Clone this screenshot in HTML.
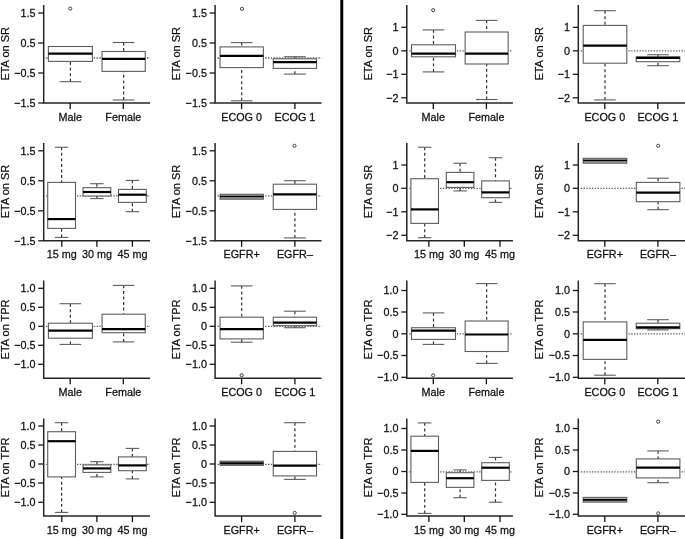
<!DOCTYPE html>
<html><head><meta charset="utf-8"><style>
html,body{margin:0;padding:0;background:#fff;}
svg{display:block;will-change:transform;}
text{font-family:"Liberation Sans",sans-serif;font-size:10.8px;fill:#111;stroke:#111;stroke-width:0.25px;}
</style></head><body>
<svg width="685" height="539" viewBox="0 0 685 539">
<rect width="685" height="539" fill="#fff"/>
<rect x="340.3" y="0" width="2.95" height="539" fill="#000"/>
<line x1="46.2" y1="58" x2="150.1" y2="58" stroke="#555" stroke-width="1.3" stroke-dasharray="1.3,1.5"/>
<line x1="70.4" y1="81.7" x2="70.4" y2="61.4" stroke="#333" stroke-width="1.2" stroke-dasharray="2.95,2.6"/>
<line x1="59.6" y1="81.7" x2="81.2" y2="81.7" stroke="#5e5e5e" stroke-width="1.1"/>
<rect x="48.4" y="46.5" width="44" height="14.9" fill="#fff" stroke="#5e5e5e" stroke-width="1.1"/>
<line x1="48.4" y1="53.6" x2="92.4" y2="53.6" stroke="#000" stroke-width="2.2"/>
<circle cx="70.2" cy="8.6" r="1.6" fill="none" stroke="#333" stroke-width="0.9"/>
<line x1="123.65" y1="42.5" x2="123.65" y2="51.5" stroke="#333" stroke-width="1.2" stroke-dasharray="2.95,2.6"/>
<line x1="112.85" y1="42.5" x2="134.45" y2="42.5" stroke="#5e5e5e" stroke-width="1.1"/>
<line x1="123.65" y1="100" x2="123.65" y2="71.4" stroke="#333" stroke-width="1.2" stroke-dasharray="2.95,2.6"/>
<line x1="112.85" y1="100" x2="134.45" y2="100" stroke="#5e5e5e" stroke-width="1.1"/>
<rect x="102.05" y="51.5" width="43.2" height="19.9" fill="#fff" stroke="#5e5e5e" stroke-width="1.1"/>
<line x1="102.05" y1="58.9" x2="145.25" y2="58.9" stroke="#000" stroke-width="2.2"/>
<path d="M43.7 5V103.1H150.1" fill="none" stroke="#262626" stroke-width="1.5"/>
<line x1="38.2" y1="13" x2="43.7" y2="13" stroke="#1a1a1a" stroke-width="1.3"/>
<text transform="translate(35.5,16.7) scale(1,1.05)" text-anchor="end">1.5</text>
<line x1="38.2" y1="43" x2="43.7" y2="43" stroke="#1a1a1a" stroke-width="1.3"/>
<text transform="translate(35.5,46.7) scale(1,1.05)" text-anchor="end">0.5</text>
<line x1="38.2" y1="73" x2="43.7" y2="73" stroke="#1a1a1a" stroke-width="1.3"/>
<text transform="translate(35.5,76.7) scale(1,1.05)" text-anchor="end">−0.5</text>
<line x1="38.2" y1="103" x2="43.7" y2="103" stroke="#1a1a1a" stroke-width="1.3"/>
<text transform="translate(35.5,106.7) scale(1,1.05)" text-anchor="end">−1.5</text>
<line x1="70.2" y1="103.1" x2="70.2" y2="109.1" stroke="#111" stroke-width="1.3"/>
<text transform="translate(70.2,120.7) scale(1,1.05)" text-anchor="middle">Male</text>
<line x1="123.3" y1="103.1" x2="123.3" y2="109.1" stroke="#111" stroke-width="1.3"/>
<text transform="translate(123.3,120.7) scale(1,1.05)" text-anchor="middle">Female</text>
<text transform="translate(8.5,53.85) rotate(-90) scale(1.017,0.93)" text-anchor="middle">ETA on SR</text>
<line x1="217.6" y1="58" x2="321.5" y2="58" stroke="#555" stroke-width="1.3" stroke-dasharray="1.3,1.5"/>
<line x1="241.7" y1="42.6" x2="241.7" y2="46.9" stroke="#333" stroke-width="1.2" stroke-dasharray="2.95,2.6"/>
<line x1="230.9" y1="42.6" x2="252.5" y2="42.6" stroke="#5e5e5e" stroke-width="1.1"/>
<line x1="241.7" y1="100.8" x2="241.7" y2="67.6" stroke="#333" stroke-width="1.2" stroke-dasharray="2.95,2.6"/>
<line x1="230.9" y1="100.8" x2="252.5" y2="100.8" stroke="#5e5e5e" stroke-width="1.1"/>
<rect x="220.05" y="46.9" width="43.3" height="20.7" fill="#fff" stroke="#5e5e5e" stroke-width="1.1"/>
<line x1="220.05" y1="55.9" x2="263.35" y2="55.9" stroke="#000" stroke-width="2.2"/>
<circle cx="242" cy="8.8" r="1.6" fill="none" stroke="#333" stroke-width="0.9"/>
<line x1="294.9" y1="56.7" x2="294.9" y2="58.8" stroke="#333" stroke-width="1.2" stroke-dasharray="2.95,2.6"/>
<line x1="284.1" y1="56.7" x2="305.7" y2="56.7" stroke="#5e5e5e" stroke-width="1.1"/>
<line x1="294.9" y1="74.1" x2="294.9" y2="68.4" stroke="#333" stroke-width="1.2" stroke-dasharray="2.95,2.6"/>
<line x1="284.1" y1="74.1" x2="305.7" y2="74.1" stroke="#5e5e5e" stroke-width="1.1"/>
<rect x="273.25" y="58.8" width="43.3" height="9.6" fill="#fff" stroke="#5e5e5e" stroke-width="1.1"/>
<line x1="273.25" y1="62.1" x2="316.55" y2="62.1" stroke="#000" stroke-width="2.2"/>
<path d="M215.1 5V103.1H321.5" fill="none" stroke="#262626" stroke-width="1.5"/>
<line x1="209.6" y1="13" x2="215.1" y2="13" stroke="#1a1a1a" stroke-width="1.3"/>
<text transform="translate(206.9,16.7) scale(1,1.05)" text-anchor="end">1.5</text>
<line x1="209.6" y1="43" x2="215.1" y2="43" stroke="#1a1a1a" stroke-width="1.3"/>
<text transform="translate(206.9,46.7) scale(1,1.05)" text-anchor="end">0.5</text>
<line x1="209.6" y1="73" x2="215.1" y2="73" stroke="#1a1a1a" stroke-width="1.3"/>
<text transform="translate(206.9,76.7) scale(1,1.05)" text-anchor="end">−0.5</text>
<line x1="209.6" y1="103" x2="215.1" y2="103" stroke="#1a1a1a" stroke-width="1.3"/>
<text transform="translate(206.9,106.7) scale(1,1.05)" text-anchor="end">−1.5</text>
<line x1="241.6" y1="103.1" x2="241.6" y2="109.1" stroke="#111" stroke-width="1.3"/>
<text transform="translate(241.6,120.7) scale(1,1.05)" text-anchor="middle">ECOG 0</text>
<line x1="294.9" y1="103.1" x2="294.9" y2="109.1" stroke="#111" stroke-width="1.3"/>
<text transform="translate(294.9,120.7) scale(1,1.05)" text-anchor="middle">ECOG 1</text>
<text transform="translate(180.2,53.85) rotate(-90) scale(1.017,0.93)" text-anchor="middle">ETA on SR</text>
<line x1="409.3" y1="50.8" x2="512.9" y2="50.8" stroke="#555" stroke-width="1.3" stroke-dasharray="1.3,1.5"/>
<line x1="433.5" y1="29.9" x2="433.5" y2="44.8" stroke="#333" stroke-width="1.2" stroke-dasharray="2.95,2.6"/>
<line x1="422.7" y1="29.9" x2="444.3" y2="29.9" stroke="#5e5e5e" stroke-width="1.1"/>
<line x1="433.5" y1="71.9" x2="433.5" y2="56.8" stroke="#333" stroke-width="1.2" stroke-dasharray="2.95,2.6"/>
<line x1="422.7" y1="71.9" x2="444.3" y2="71.9" stroke="#5e5e5e" stroke-width="1.1"/>
<rect x="411.5" y="44.8" width="44" height="12" fill="#fff" stroke="#5e5e5e" stroke-width="1.1"/>
<line x1="411.5" y1="53.6" x2="455.5" y2="53.6" stroke="#000" stroke-width="2.2"/>
<circle cx="433.2" cy="10.2" r="1.6" fill="none" stroke="#333" stroke-width="0.9"/>
<line x1="486.65" y1="20.4" x2="486.65" y2="32" stroke="#333" stroke-width="1.2" stroke-dasharray="2.95,2.6"/>
<line x1="475.85" y1="20.4" x2="497.45" y2="20.4" stroke="#5e5e5e" stroke-width="1.1"/>
<line x1="486.65" y1="99.5" x2="486.65" y2="64" stroke="#333" stroke-width="1.2" stroke-dasharray="2.95,2.6"/>
<line x1="475.85" y1="99.5" x2="497.45" y2="99.5" stroke="#5e5e5e" stroke-width="1.1"/>
<rect x="465.15" y="32" width="43" height="32" fill="#fff" stroke="#5e5e5e" stroke-width="1.1"/>
<line x1="465.15" y1="53.6" x2="508.15" y2="53.6" stroke="#000" stroke-width="2.2"/>
<path d="M406.8 5V103.1H512.9" fill="none" stroke="#262626" stroke-width="1.5"/>
<line x1="401.3" y1="27.3" x2="406.8" y2="27.3" stroke="#1a1a1a" stroke-width="1.3"/>
<text transform="translate(398.6,31) scale(1,1.05)" text-anchor="end">1</text>
<line x1="401.3" y1="50.8" x2="406.8" y2="50.8" stroke="#1a1a1a" stroke-width="1.3"/>
<text transform="translate(398.6,54.5) scale(1,1.05)" text-anchor="end">0</text>
<line x1="401.3" y1="74.3" x2="406.8" y2="74.3" stroke="#1a1a1a" stroke-width="1.3"/>
<text transform="translate(398.6,78) scale(1,1.05)" text-anchor="end">−1</text>
<line x1="401.3" y1="97.8" x2="406.8" y2="97.8" stroke="#1a1a1a" stroke-width="1.3"/>
<text transform="translate(398.6,101.5) scale(1,1.05)" text-anchor="end">−2</text>
<line x1="433.3" y1="103.1" x2="433.3" y2="109.1" stroke="#111" stroke-width="1.3"/>
<text transform="translate(433.3,120.7) scale(1,1.05)" text-anchor="middle">Male</text>
<line x1="486.4" y1="103.1" x2="486.4" y2="109.1" stroke="#111" stroke-width="1.3"/>
<text transform="translate(486.4,120.7) scale(1,1.05)" text-anchor="middle">Female</text>
<text transform="translate(372,53.85) rotate(-90) scale(1.017,0.93)" text-anchor="middle">ETA on SR</text>
<line x1="580.8" y1="50.8" x2="686" y2="50.8" stroke="#555" stroke-width="1.3" stroke-dasharray="1.3,1.5"/>
<line x1="605" y1="10.7" x2="605" y2="25.4" stroke="#333" stroke-width="1.2" stroke-dasharray="2.95,2.6"/>
<line x1="594.2" y1="10.7" x2="615.8" y2="10.7" stroke="#5e5e5e" stroke-width="1.1"/>
<line x1="605" y1="99.9" x2="605" y2="63.2" stroke="#333" stroke-width="1.2" stroke-dasharray="2.95,2.6"/>
<line x1="594.2" y1="99.9" x2="615.8" y2="99.9" stroke="#5e5e5e" stroke-width="1.1"/>
<rect x="583.2" y="25.4" width="43.6" height="37.8" fill="#fff" stroke="#5e5e5e" stroke-width="1.1"/>
<line x1="583.2" y1="45.6" x2="626.8" y2="45.6" stroke="#000" stroke-width="2.2"/>
<line x1="658" y1="54.7" x2="658" y2="56.9" stroke="#333" stroke-width="1.2" stroke-dasharray="2.95,2.6"/>
<line x1="647.2" y1="54.7" x2="668.8" y2="54.7" stroke="#5e5e5e" stroke-width="1.1"/>
<line x1="658" y1="65.7" x2="658" y2="61.7" stroke="#333" stroke-width="1.2" stroke-dasharray="2.95,2.6"/>
<line x1="647.2" y1="65.7" x2="668.8" y2="65.7" stroke="#5e5e5e" stroke-width="1.1"/>
<rect x="636.2" y="56.9" width="43.6" height="4.8" fill="#fff" stroke="#5e5e5e" stroke-width="1.1"/>
<line x1="636.2" y1="57.9" x2="679.8" y2="57.9" stroke="#000" stroke-width="2.2"/>
<path d="M578.3 5V103.1H686" fill="none" stroke="#262626" stroke-width="1.5"/>
<line x1="572.8" y1="27.3" x2="578.3" y2="27.3" stroke="#1a1a1a" stroke-width="1.3"/>
<text transform="translate(570.1,31) scale(1,1.05)" text-anchor="end">1</text>
<line x1="572.8" y1="50.8" x2="578.3" y2="50.8" stroke="#1a1a1a" stroke-width="1.3"/>
<text transform="translate(570.1,54.5) scale(1,1.05)" text-anchor="end">0</text>
<line x1="572.8" y1="74.3" x2="578.3" y2="74.3" stroke="#1a1a1a" stroke-width="1.3"/>
<text transform="translate(570.1,78) scale(1,1.05)" text-anchor="end">−1</text>
<line x1="572.8" y1="97.8" x2="578.3" y2="97.8" stroke="#1a1a1a" stroke-width="1.3"/>
<text transform="translate(570.1,101.5) scale(1,1.05)" text-anchor="end">−2</text>
<line x1="604.8" y1="103.1" x2="604.8" y2="109.1" stroke="#111" stroke-width="1.3"/>
<text transform="translate(604.8,120.7) scale(1,1.05)" text-anchor="middle">ECOG 0</text>
<line x1="657.8" y1="103.1" x2="657.8" y2="109.1" stroke="#111" stroke-width="1.3"/>
<text transform="translate(657.8,120.7) scale(1,1.05)" text-anchor="middle">ECOG 1</text>
<text transform="translate(543.4,53.85) rotate(-90) scale(1.017,0.93)" text-anchor="middle">ETA on SR</text>
<line x1="46.2" y1="195.8" x2="150.1" y2="195.8" stroke="#555" stroke-width="1.3" stroke-dasharray="1.3,1.5"/>
<line x1="61.6" y1="147.3" x2="61.6" y2="182.4" stroke="#333" stroke-width="1.2" stroke-dasharray="2.95,2.6"/>
<line x1="54.9" y1="147.3" x2="68.3" y2="147.3" stroke="#5e5e5e" stroke-width="1.1"/>
<line x1="61.6" y1="237.4" x2="61.6" y2="228.4" stroke="#333" stroke-width="1.2" stroke-dasharray="2.95,2.6"/>
<line x1="54.9" y1="237.4" x2="68.3" y2="237.4" stroke="#5e5e5e" stroke-width="1.1"/>
<rect x="47.7" y="182.4" width="27.8" height="46" fill="#fff" stroke="#5e5e5e" stroke-width="1.1"/>
<line x1="47.7" y1="219.1" x2="75.5" y2="219.1" stroke="#000" stroke-width="2.2"/>
<line x1="96.9" y1="183.7" x2="96.9" y2="187.7" stroke="#333" stroke-width="1.2" stroke-dasharray="2.95,2.6"/>
<line x1="90.2" y1="183.7" x2="103.6" y2="183.7" stroke="#5e5e5e" stroke-width="1.1"/>
<line x1="96.9" y1="198.6" x2="96.9" y2="196" stroke="#333" stroke-width="1.2" stroke-dasharray="2.95,2.6"/>
<line x1="90.2" y1="198.6" x2="103.6" y2="198.6" stroke="#5e5e5e" stroke-width="1.1"/>
<rect x="83" y="187.7" width="27.8" height="8.3" fill="#fff" stroke="#5e5e5e" stroke-width="1.1"/>
<line x1="83" y1="192" x2="110.8" y2="192" stroke="#000" stroke-width="2.2"/>
<line x1="132.4" y1="180.4" x2="132.4" y2="189.4" stroke="#333" stroke-width="1.2" stroke-dasharray="2.95,2.6"/>
<line x1="125.7" y1="180.4" x2="139.1" y2="180.4" stroke="#5e5e5e" stroke-width="1.1"/>
<line x1="132.4" y1="211.7" x2="132.4" y2="202.4" stroke="#333" stroke-width="1.2" stroke-dasharray="2.95,2.6"/>
<line x1="125.7" y1="211.7" x2="139.1" y2="211.7" stroke="#5e5e5e" stroke-width="1.1"/>
<rect x="118.5" y="189.4" width="27.8" height="13" fill="#fff" stroke="#5e5e5e" stroke-width="1.1"/>
<line x1="118.5" y1="194.7" x2="146.3" y2="194.7" stroke="#000" stroke-width="2.2"/>
<path d="M43.7 143V240.8H150.1" fill="none" stroke="#262626" stroke-width="1.5"/>
<line x1="38.2" y1="150.8" x2="43.7" y2="150.8" stroke="#1a1a1a" stroke-width="1.3"/>
<text transform="translate(35.5,154.5) scale(1,1.05)" text-anchor="end">1.5</text>
<line x1="38.2" y1="180.8" x2="43.7" y2="180.8" stroke="#1a1a1a" stroke-width="1.3"/>
<text transform="translate(35.5,184.5) scale(1,1.05)" text-anchor="end">0.5</text>
<line x1="38.2" y1="210.8" x2="43.7" y2="210.8" stroke="#1a1a1a" stroke-width="1.3"/>
<text transform="translate(35.5,214.5) scale(1,1.05)" text-anchor="end">−0.5</text>
<line x1="38.2" y1="240.8" x2="43.7" y2="240.8" stroke="#1a1a1a" stroke-width="1.3"/>
<text transform="translate(35.5,244.5) scale(1,1.05)" text-anchor="end">−1.5</text>
<line x1="61.8" y1="240.8" x2="61.8" y2="246.8" stroke="#111" stroke-width="1.3"/>
<text transform="translate(61.8,258.4) scale(1,1.05)" text-anchor="middle">15 mg</text>
<line x1="96.9" y1="240.8" x2="96.9" y2="246.8" stroke="#111" stroke-width="1.3"/>
<text transform="translate(96.9,258.4) scale(1,1.05)" text-anchor="middle">30 mg</text>
<line x1="132.4" y1="240.8" x2="132.4" y2="246.8" stroke="#111" stroke-width="1.3"/>
<text transform="translate(132.4,258.4) scale(1,1.05)" text-anchor="middle">45 mg</text>
<text transform="translate(8.5,191.5) rotate(-90) scale(1.017,0.93)" text-anchor="middle">ETA on SR</text>
<line x1="217.6" y1="195.8" x2="321.5" y2="195.8" stroke="#555" stroke-width="1.3" stroke-dasharray="1.3,1.5"/>
<rect x="220.05" y="194.3" width="43.3" height="4.9" fill="#a8a8a8" stroke="#5e5e5e" stroke-width="1.1"/>
<line x1="220.05" y1="196.5" x2="263.35" y2="196.5" stroke="#000" stroke-width="1.3"/>
<line x1="294.9" y1="180.7" x2="294.9" y2="184.2" stroke="#333" stroke-width="1.2" stroke-dasharray="2.95,2.6"/>
<line x1="284.1" y1="180.7" x2="305.7" y2="180.7" stroke="#5e5e5e" stroke-width="1.1"/>
<line x1="294.9" y1="237.9" x2="294.9" y2="209.4" stroke="#333" stroke-width="1.2" stroke-dasharray="2.95,2.6"/>
<line x1="284.1" y1="237.9" x2="305.7" y2="237.9" stroke="#5e5e5e" stroke-width="1.1"/>
<rect x="273.25" y="184.2" width="43.3" height="25.2" fill="#fff" stroke="#5e5e5e" stroke-width="1.1"/>
<line x1="273.25" y1="194.4" x2="316.55" y2="194.4" stroke="#000" stroke-width="2.2"/>
<circle cx="294.5" cy="145.8" r="1.6" fill="none" stroke="#333" stroke-width="0.9"/>
<path d="M215.1 143V240.8H321.5" fill="none" stroke="#262626" stroke-width="1.5"/>
<line x1="209.6" y1="150.8" x2="215.1" y2="150.8" stroke="#1a1a1a" stroke-width="1.3"/>
<text transform="translate(206.9,154.5) scale(1,1.05)" text-anchor="end">1.5</text>
<line x1="209.6" y1="180.8" x2="215.1" y2="180.8" stroke="#1a1a1a" stroke-width="1.3"/>
<text transform="translate(206.9,184.5) scale(1,1.05)" text-anchor="end">0.5</text>
<line x1="209.6" y1="210.8" x2="215.1" y2="210.8" stroke="#1a1a1a" stroke-width="1.3"/>
<text transform="translate(206.9,214.5) scale(1,1.05)" text-anchor="end">−0.5</text>
<line x1="209.6" y1="240.8" x2="215.1" y2="240.8" stroke="#1a1a1a" stroke-width="1.3"/>
<text transform="translate(206.9,244.5) scale(1,1.05)" text-anchor="end">−1.5</text>
<line x1="241.6" y1="240.8" x2="241.6" y2="246.8" stroke="#111" stroke-width="1.3"/>
<text transform="translate(241.6,258.4) scale(1,1.05)" text-anchor="middle">EGFR+</text>
<line x1="294.9" y1="240.8" x2="294.9" y2="246.8" stroke="#111" stroke-width="1.3"/>
<text transform="translate(294.9,258.4) scale(1,1.05)" text-anchor="middle">EGFR–</text>
<text transform="translate(180.2,191.5) rotate(-90) scale(1.017,0.93)" text-anchor="middle">ETA on SR</text>
<line x1="409.3" y1="188.3" x2="512.9" y2="188.3" stroke="#555" stroke-width="1.3" stroke-dasharray="1.3,1.5"/>
<line x1="424.7" y1="147.2" x2="424.7" y2="178.7" stroke="#333" stroke-width="1.2" stroke-dasharray="2.95,2.6"/>
<line x1="418" y1="147.2" x2="431.4" y2="147.2" stroke="#5e5e5e" stroke-width="1.1"/>
<line x1="424.7" y1="237.7" x2="424.7" y2="223.4" stroke="#333" stroke-width="1.2" stroke-dasharray="2.95,2.6"/>
<line x1="418" y1="237.7" x2="431.4" y2="237.7" stroke="#5e5e5e" stroke-width="1.1"/>
<rect x="410.9" y="178.7" width="27.6" height="44.7" fill="#fff" stroke="#5e5e5e" stroke-width="1.1"/>
<line x1="410.9" y1="209.4" x2="438.5" y2="209.4" stroke="#000" stroke-width="2.2"/>
<line x1="460.1" y1="163.2" x2="460.1" y2="172.4" stroke="#333" stroke-width="1.2" stroke-dasharray="2.95,2.6"/>
<line x1="453.4" y1="163.2" x2="466.8" y2="163.2" stroke="#5e5e5e" stroke-width="1.1"/>
<line x1="460.1" y1="190.9" x2="460.1" y2="187.4" stroke="#333" stroke-width="1.2" stroke-dasharray="2.95,2.6"/>
<line x1="453.4" y1="190.9" x2="466.8" y2="190.9" stroke="#5e5e5e" stroke-width="1.1"/>
<rect x="446.3" y="172.4" width="27.6" height="15" fill="#fff" stroke="#5e5e5e" stroke-width="1.1"/>
<line x1="446.3" y1="182.2" x2="473.9" y2="182.2" stroke="#000" stroke-width="2.2"/>
<line x1="495.5" y1="157.7" x2="495.5" y2="180.9" stroke="#333" stroke-width="1.2" stroke-dasharray="2.95,2.6"/>
<line x1="488.8" y1="157.7" x2="502.2" y2="157.7" stroke="#5e5e5e" stroke-width="1.1"/>
<line x1="495.5" y1="202.4" x2="495.5" y2="197.7" stroke="#333" stroke-width="1.2" stroke-dasharray="2.95,2.6"/>
<line x1="488.8" y1="202.4" x2="502.2" y2="202.4" stroke="#5e5e5e" stroke-width="1.1"/>
<rect x="481.7" y="180.9" width="27.6" height="16.8" fill="#fff" stroke="#5e5e5e" stroke-width="1.1"/>
<line x1="481.7" y1="192.4" x2="509.3" y2="192.4" stroke="#000" stroke-width="2.2"/>
<path d="M406.8 143V240.8H512.9" fill="none" stroke="#262626" stroke-width="1.5"/>
<line x1="401.3" y1="165" x2="406.8" y2="165" stroke="#1a1a1a" stroke-width="1.3"/>
<text transform="translate(398.6,168.7) scale(1,1.05)" text-anchor="end">1</text>
<line x1="401.3" y1="188.3" x2="406.8" y2="188.3" stroke="#1a1a1a" stroke-width="1.3"/>
<text transform="translate(398.6,192) scale(1,1.05)" text-anchor="end">0</text>
<line x1="401.3" y1="211.8" x2="406.8" y2="211.8" stroke="#1a1a1a" stroke-width="1.3"/>
<text transform="translate(398.6,215.5) scale(1,1.05)" text-anchor="end">−1</text>
<line x1="401.3" y1="235.3" x2="406.8" y2="235.3" stroke="#1a1a1a" stroke-width="1.3"/>
<text transform="translate(398.6,239) scale(1,1.05)" text-anchor="end">−2</text>
<line x1="428.9" y1="240.8" x2="428.9" y2="246.8" stroke="#111" stroke-width="1.3"/>
<text transform="translate(428.9,258.4) scale(1,1.05)" text-anchor="middle">15 mg</text>
<line x1="464.3" y1="240.8" x2="464.3" y2="246.8" stroke="#111" stroke-width="1.3"/>
<text transform="translate(464.3,258.4) scale(1,1.05)" text-anchor="middle">30 mg</text>
<line x1="500" y1="240.8" x2="500" y2="246.8" stroke="#111" stroke-width="1.3"/>
<text transform="translate(500,258.4) scale(1,1.05)" text-anchor="middle">45 mg</text>
<text transform="translate(372,191.5) rotate(-90) scale(1.017,0.93)" text-anchor="middle">ETA on SR</text>
<line x1="580.8" y1="188.3" x2="686" y2="188.3" stroke="#555" stroke-width="1.3" stroke-dasharray="1.3,1.5"/>
<rect x="583.2" y="158.3" width="43.6" height="4.9" fill="#a8a8a8" stroke="#5e5e5e" stroke-width="1.1"/>
<line x1="583.2" y1="160.5" x2="626.8" y2="160.5" stroke="#000" stroke-width="1.3"/>
<line x1="658.1" y1="178.2" x2="658.1" y2="182.4" stroke="#333" stroke-width="1.2" stroke-dasharray="2.95,2.6"/>
<line x1="647.3" y1="178.2" x2="668.9" y2="178.2" stroke="#5e5e5e" stroke-width="1.1"/>
<line x1="658.1" y1="209.7" x2="658.1" y2="201.7" stroke="#333" stroke-width="1.2" stroke-dasharray="2.95,2.6"/>
<line x1="647.3" y1="209.7" x2="668.9" y2="209.7" stroke="#5e5e5e" stroke-width="1.1"/>
<rect x="636.3" y="182.4" width="43.6" height="19.3" fill="#fff" stroke="#5e5e5e" stroke-width="1.1"/>
<line x1="636.3" y1="192.7" x2="679.9" y2="192.7" stroke="#000" stroke-width="2.2"/>
<circle cx="658.2" cy="145.8" r="1.6" fill="none" stroke="#333" stroke-width="0.9"/>
<path d="M578.3 143V240.8H686" fill="none" stroke="#262626" stroke-width="1.5"/>
<line x1="572.8" y1="165" x2="578.3" y2="165" stroke="#1a1a1a" stroke-width="1.3"/>
<text transform="translate(570.1,168.7) scale(1,1.05)" text-anchor="end">1</text>
<line x1="572.8" y1="188.3" x2="578.3" y2="188.3" stroke="#1a1a1a" stroke-width="1.3"/>
<text transform="translate(570.1,192) scale(1,1.05)" text-anchor="end">0</text>
<line x1="572.8" y1="211.8" x2="578.3" y2="211.8" stroke="#1a1a1a" stroke-width="1.3"/>
<text transform="translate(570.1,215.5) scale(1,1.05)" text-anchor="end">−1</text>
<line x1="572.8" y1="235.3" x2="578.3" y2="235.3" stroke="#1a1a1a" stroke-width="1.3"/>
<text transform="translate(570.1,239) scale(1,1.05)" text-anchor="end">−2</text>
<line x1="604.8" y1="240.8" x2="604.8" y2="246.8" stroke="#111" stroke-width="1.3"/>
<text transform="translate(604.8,258.4) scale(1,1.05)" text-anchor="middle">EGFR+</text>
<line x1="657.9" y1="240.8" x2="657.9" y2="246.8" stroke="#111" stroke-width="1.3"/>
<text transform="translate(657.9,258.4) scale(1,1.05)" text-anchor="middle">EGFR–</text>
<text transform="translate(543.4,191.5) rotate(-90) scale(1.017,0.93)" text-anchor="middle">ETA on SR</text>
<line x1="46.2" y1="326.3" x2="150.1" y2="326.3" stroke="#555" stroke-width="1.3" stroke-dasharray="1.3,1.5"/>
<line x1="70.4" y1="303.7" x2="70.4" y2="323.2" stroke="#333" stroke-width="1.2" stroke-dasharray="2.95,2.6"/>
<line x1="59.6" y1="303.7" x2="81.2" y2="303.7" stroke="#5e5e5e" stroke-width="1.1"/>
<line x1="70.4" y1="344.4" x2="70.4" y2="338.2" stroke="#333" stroke-width="1.2" stroke-dasharray="2.95,2.6"/>
<line x1="59.6" y1="344.4" x2="81.2" y2="344.4" stroke="#5e5e5e" stroke-width="1.1"/>
<rect x="48.4" y="323.2" width="44" height="15" fill="#fff" stroke="#5e5e5e" stroke-width="1.1"/>
<line x1="48.4" y1="330.7" x2="92.4" y2="330.7" stroke="#000" stroke-width="2.2"/>
<line x1="123.65" y1="285.4" x2="123.65" y2="314.2" stroke="#333" stroke-width="1.2" stroke-dasharray="2.95,2.6"/>
<line x1="112.85" y1="285.4" x2="134.45" y2="285.4" stroke="#5e5e5e" stroke-width="1.1"/>
<line x1="123.65" y1="341.9" x2="123.65" y2="332.7" stroke="#333" stroke-width="1.2" stroke-dasharray="2.95,2.6"/>
<line x1="112.85" y1="341.9" x2="134.45" y2="341.9" stroke="#5e5e5e" stroke-width="1.1"/>
<rect x="102.05" y="314.2" width="43.2" height="18.5" fill="#fff" stroke="#5e5e5e" stroke-width="1.1"/>
<line x1="102.05" y1="329.2" x2="145.25" y2="329.2" stroke="#000" stroke-width="2.2"/>
<path d="M43.7 280.6V378.3H150.1" fill="none" stroke="#262626" stroke-width="1.5"/>
<line x1="38.2" y1="288.3" x2="43.7" y2="288.3" stroke="#1a1a1a" stroke-width="1.3"/>
<text transform="translate(35.5,292) scale(1,1.05)" text-anchor="end">1.0</text>
<line x1="38.2" y1="307.3" x2="43.7" y2="307.3" stroke="#1a1a1a" stroke-width="1.3"/>
<text transform="translate(35.5,311) scale(1,1.05)" text-anchor="end">0.5</text>
<line x1="38.2" y1="326.3" x2="43.7" y2="326.3" stroke="#1a1a1a" stroke-width="1.3"/>
<text transform="translate(35.5,330) scale(1,1.05)" text-anchor="end">0</text>
<line x1="38.2" y1="345.3" x2="43.7" y2="345.3" stroke="#1a1a1a" stroke-width="1.3"/>
<text transform="translate(35.5,349) scale(1,1.05)" text-anchor="end">−0.5</text>
<line x1="38.2" y1="364.3" x2="43.7" y2="364.3" stroke="#1a1a1a" stroke-width="1.3"/>
<text transform="translate(35.5,368) scale(1,1.05)" text-anchor="end">−1.0</text>
<line x1="70.2" y1="378.3" x2="70.2" y2="384.3" stroke="#111" stroke-width="1.3"/>
<text transform="translate(70.2,395.9) scale(1,1.05)" text-anchor="middle">Male</text>
<line x1="123.3" y1="378.3" x2="123.3" y2="384.3" stroke="#111" stroke-width="1.3"/>
<text transform="translate(123.3,395.9) scale(1,1.05)" text-anchor="middle">Female</text>
<text transform="translate(8.5,329.45) rotate(-90) scale(1.017,0.93)" text-anchor="middle">ETA on TPR</text>
<line x1="217.6" y1="326.3" x2="321.5" y2="326.3" stroke="#555" stroke-width="1.3" stroke-dasharray="1.3,1.5"/>
<line x1="241.7" y1="285.9" x2="241.7" y2="317.2" stroke="#333" stroke-width="1.2" stroke-dasharray="2.95,2.6"/>
<line x1="230.9" y1="285.9" x2="252.5" y2="285.9" stroke="#5e5e5e" stroke-width="1.1"/>
<line x1="241.7" y1="342.2" x2="241.7" y2="338.9" stroke="#333" stroke-width="1.2" stroke-dasharray="2.95,2.6"/>
<line x1="230.9" y1="342.2" x2="252.5" y2="342.2" stroke="#5e5e5e" stroke-width="1.1"/>
<rect x="220.05" y="317.2" width="43.3" height="21.7" fill="#fff" stroke="#5e5e5e" stroke-width="1.1"/>
<line x1="220.05" y1="329.2" x2="263.35" y2="329.2" stroke="#000" stroke-width="2.2"/>
<circle cx="241.7" cy="375.2" r="1.6" fill="none" stroke="#333" stroke-width="0.9"/>
<line x1="294.9" y1="311.2" x2="294.9" y2="317.2" stroke="#333" stroke-width="1.2" stroke-dasharray="2.95,2.6"/>
<line x1="284.1" y1="311.2" x2="305.7" y2="311.2" stroke="#5e5e5e" stroke-width="1.1"/>
<line x1="294.9" y1="327.7" x2="294.9" y2="325.7" stroke="#333" stroke-width="1.2" stroke-dasharray="2.95,2.6"/>
<line x1="284.1" y1="327.7" x2="305.7" y2="327.7" stroke="#5e5e5e" stroke-width="1.1"/>
<rect x="273.25" y="317.2" width="43.3" height="8.5" fill="#fff" stroke="#5e5e5e" stroke-width="1.1"/>
<line x1="273.25" y1="322.7" x2="316.55" y2="322.7" stroke="#000" stroke-width="2.2"/>
<path d="M215.1 280.6V378.3H321.5" fill="none" stroke="#262626" stroke-width="1.5"/>
<line x1="209.6" y1="288.3" x2="215.1" y2="288.3" stroke="#1a1a1a" stroke-width="1.3"/>
<text transform="translate(206.9,292) scale(1,1.05)" text-anchor="end">1.0</text>
<line x1="209.6" y1="307.3" x2="215.1" y2="307.3" stroke="#1a1a1a" stroke-width="1.3"/>
<text transform="translate(206.9,311) scale(1,1.05)" text-anchor="end">0.5</text>
<line x1="209.6" y1="326.3" x2="215.1" y2="326.3" stroke="#1a1a1a" stroke-width="1.3"/>
<text transform="translate(206.9,330) scale(1,1.05)" text-anchor="end">0</text>
<line x1="209.6" y1="345.3" x2="215.1" y2="345.3" stroke="#1a1a1a" stroke-width="1.3"/>
<text transform="translate(206.9,349) scale(1,1.05)" text-anchor="end">−0.5</text>
<line x1="209.6" y1="364.3" x2="215.1" y2="364.3" stroke="#1a1a1a" stroke-width="1.3"/>
<text transform="translate(206.9,368) scale(1,1.05)" text-anchor="end">−1.0</text>
<line x1="241.6" y1="378.3" x2="241.6" y2="384.3" stroke="#111" stroke-width="1.3"/>
<text transform="translate(241.6,395.9) scale(1,1.05)" text-anchor="middle">ECOG 0</text>
<line x1="294.9" y1="378.3" x2="294.9" y2="384.3" stroke="#111" stroke-width="1.3"/>
<text transform="translate(294.9,395.9) scale(1,1.05)" text-anchor="middle">ECOG 1</text>
<text transform="translate(180.2,329.45) rotate(-90) scale(1.017,0.93)" text-anchor="middle">ETA on TPR</text>
<line x1="409.3" y1="333.8" x2="512.9" y2="333.8" stroke="#555" stroke-width="1.3" stroke-dasharray="1.3,1.5"/>
<line x1="433.5" y1="312.9" x2="433.5" y2="327.7" stroke="#333" stroke-width="1.2" stroke-dasharray="2.95,2.6"/>
<line x1="422.7" y1="312.9" x2="444.3" y2="312.9" stroke="#5e5e5e" stroke-width="1.1"/>
<line x1="433.5" y1="344.4" x2="433.5" y2="339.4" stroke="#333" stroke-width="1.2" stroke-dasharray="2.95,2.6"/>
<line x1="422.7" y1="344.4" x2="444.3" y2="344.4" stroke="#5e5e5e" stroke-width="1.1"/>
<rect x="411.5" y="327.7" width="44" height="11.7" fill="#fff" stroke="#5e5e5e" stroke-width="1.1"/>
<line x1="411.5" y1="330.7" x2="455.5" y2="330.7" stroke="#000" stroke-width="2.2"/>
<circle cx="433.2" cy="375.4" r="1.6" fill="none" stroke="#333" stroke-width="0.9"/>
<line x1="486.65" y1="283.6" x2="486.65" y2="321" stroke="#333" stroke-width="1.2" stroke-dasharray="2.95,2.6"/>
<line x1="475.85" y1="283.6" x2="497.45" y2="283.6" stroke="#5e5e5e" stroke-width="1.1"/>
<line x1="486.65" y1="363.4" x2="486.65" y2="351.5" stroke="#333" stroke-width="1.2" stroke-dasharray="2.95,2.6"/>
<line x1="475.85" y1="363.4" x2="497.45" y2="363.4" stroke="#5e5e5e" stroke-width="1.1"/>
<rect x="465.15" y="321" width="43" height="30.5" fill="#fff" stroke="#5e5e5e" stroke-width="1.1"/>
<line x1="465.15" y1="334.5" x2="508.15" y2="334.5" stroke="#000" stroke-width="2.2"/>
<path d="M406.8 280.6V378.3H512.9" fill="none" stroke="#262626" stroke-width="1.5"/>
<line x1="401.3" y1="290.5" x2="406.8" y2="290.5" stroke="#1a1a1a" stroke-width="1.3"/>
<text transform="translate(398.6,294.2) scale(1,1.05)" text-anchor="end">1.0</text>
<line x1="401.3" y1="312" x2="406.8" y2="312" stroke="#1a1a1a" stroke-width="1.3"/>
<text transform="translate(398.6,315.7) scale(1,1.05)" text-anchor="end">0.5</text>
<line x1="401.3" y1="333.8" x2="406.8" y2="333.8" stroke="#1a1a1a" stroke-width="1.3"/>
<text transform="translate(398.6,337.5) scale(1,1.05)" text-anchor="end">0</text>
<line x1="401.3" y1="355.5" x2="406.8" y2="355.5" stroke="#1a1a1a" stroke-width="1.3"/>
<text transform="translate(398.6,359.2) scale(1,1.05)" text-anchor="end">−0.5</text>
<line x1="401.3" y1="377.3" x2="406.8" y2="377.3" stroke="#1a1a1a" stroke-width="1.3"/>
<text transform="translate(398.6,381) scale(1,1.05)" text-anchor="end">−1.0</text>
<line x1="433.3" y1="378.3" x2="433.3" y2="384.3" stroke="#111" stroke-width="1.3"/>
<text transform="translate(433.3,395.9) scale(1,1.05)" text-anchor="middle">Male</text>
<line x1="486.4" y1="378.3" x2="486.4" y2="384.3" stroke="#111" stroke-width="1.3"/>
<text transform="translate(486.4,395.9) scale(1,1.05)" text-anchor="middle">Female</text>
<text transform="translate(372,329.45) rotate(-90) scale(1.017,0.93)" text-anchor="middle">ETA on TPR</text>
<line x1="580.8" y1="333.8" x2="686" y2="333.8" stroke="#555" stroke-width="1.3" stroke-dasharray="1.3,1.5"/>
<line x1="605" y1="283.7" x2="605" y2="321.9" stroke="#333" stroke-width="1.2" stroke-dasharray="2.95,2.6"/>
<line x1="594.2" y1="283.7" x2="615.8" y2="283.7" stroke="#5e5e5e" stroke-width="1.1"/>
<line x1="605" y1="375.2" x2="605" y2="359.4" stroke="#333" stroke-width="1.2" stroke-dasharray="2.95,2.6"/>
<line x1="594.2" y1="375.2" x2="615.8" y2="375.2" stroke="#5e5e5e" stroke-width="1.1"/>
<rect x="583.2" y="321.9" width="43.6" height="37.5" fill="#fff" stroke="#5e5e5e" stroke-width="1.1"/>
<line x1="583.2" y1="339.9" x2="626.8" y2="339.9" stroke="#000" stroke-width="2.2"/>
<line x1="658" y1="319.7" x2="658" y2="323.2" stroke="#333" stroke-width="1.2" stroke-dasharray="2.95,2.6"/>
<line x1="647.2" y1="319.7" x2="668.8" y2="319.7" stroke="#5e5e5e" stroke-width="1.1"/>
<line x1="658" y1="329.9" x2="658" y2="328.7" stroke="#333" stroke-width="1.2" stroke-dasharray="2.95,2.6"/>
<line x1="647.2" y1="329.9" x2="668.8" y2="329.9" stroke="#5e5e5e" stroke-width="1.1"/>
<rect x="636.2" y="323.2" width="43.6" height="5.5" fill="#fff" stroke="#5e5e5e" stroke-width="1.1"/>
<line x1="636.2" y1="327.4" x2="679.8" y2="327.4" stroke="#000" stroke-width="2.2"/>
<path d="M578.3 280.6V378.3H686" fill="none" stroke="#262626" stroke-width="1.5"/>
<line x1="572.8" y1="290.5" x2="578.3" y2="290.5" stroke="#1a1a1a" stroke-width="1.3"/>
<text transform="translate(570.1,294.2) scale(1,1.05)" text-anchor="end">1.0</text>
<line x1="572.8" y1="312" x2="578.3" y2="312" stroke="#1a1a1a" stroke-width="1.3"/>
<text transform="translate(570.1,315.7) scale(1,1.05)" text-anchor="end">0.5</text>
<line x1="572.8" y1="333.8" x2="578.3" y2="333.8" stroke="#1a1a1a" stroke-width="1.3"/>
<text transform="translate(570.1,337.5) scale(1,1.05)" text-anchor="end">0</text>
<line x1="572.8" y1="355.5" x2="578.3" y2="355.5" stroke="#1a1a1a" stroke-width="1.3"/>
<text transform="translate(570.1,359.2) scale(1,1.05)" text-anchor="end">−0.5</text>
<line x1="572.8" y1="377.3" x2="578.3" y2="377.3" stroke="#1a1a1a" stroke-width="1.3"/>
<text transform="translate(570.1,381) scale(1,1.05)" text-anchor="end">−1.0</text>
<line x1="604.8" y1="378.3" x2="604.8" y2="384.3" stroke="#111" stroke-width="1.3"/>
<text transform="translate(604.8,395.9) scale(1,1.05)" text-anchor="middle">ECOG 0</text>
<line x1="657.8" y1="378.3" x2="657.8" y2="384.3" stroke="#111" stroke-width="1.3"/>
<text transform="translate(657.8,395.9) scale(1,1.05)" text-anchor="middle">ECOG 1</text>
<text transform="translate(543.4,329.45) rotate(-90) scale(1.017,0.93)" text-anchor="middle">ETA on TPR</text>
<line x1="46.2" y1="464.4" x2="150.1" y2="464.4" stroke="#555" stroke-width="1.3" stroke-dasharray="1.3,1.5"/>
<line x1="61.6" y1="422.7" x2="61.6" y2="431.7" stroke="#333" stroke-width="1.2" stroke-dasharray="2.95,2.6"/>
<line x1="54.9" y1="422.7" x2="68.3" y2="422.7" stroke="#5e5e5e" stroke-width="1.1"/>
<line x1="61.6" y1="512.4" x2="61.6" y2="476.9" stroke="#333" stroke-width="1.2" stroke-dasharray="2.95,2.6"/>
<line x1="54.9" y1="512.4" x2="68.3" y2="512.4" stroke="#5e5e5e" stroke-width="1.1"/>
<rect x="47.7" y="431.7" width="27.8" height="45.2" fill="#fff" stroke="#5e5e5e" stroke-width="1.1"/>
<line x1="47.7" y1="441.2" x2="75.5" y2="441.2" stroke="#000" stroke-width="2.2"/>
<line x1="96.9" y1="461.7" x2="96.9" y2="464.9" stroke="#333" stroke-width="1.2" stroke-dasharray="2.95,2.6"/>
<line x1="90.2" y1="461.7" x2="103.6" y2="461.7" stroke="#5e5e5e" stroke-width="1.1"/>
<line x1="96.9" y1="476.9" x2="96.9" y2="472.4" stroke="#333" stroke-width="1.2" stroke-dasharray="2.95,2.6"/>
<line x1="90.2" y1="476.9" x2="103.6" y2="476.9" stroke="#5e5e5e" stroke-width="1.1"/>
<rect x="83" y="464.9" width="27.8" height="7.5" fill="#fff" stroke="#5e5e5e" stroke-width="1.1"/>
<line x1="83" y1="468.4" x2="110.8" y2="468.4" stroke="#000" stroke-width="2.2"/>
<line x1="132.4" y1="448.4" x2="132.4" y2="456.9" stroke="#333" stroke-width="1.2" stroke-dasharray="2.95,2.6"/>
<line x1="125.7" y1="448.4" x2="139.1" y2="448.4" stroke="#5e5e5e" stroke-width="1.1"/>
<line x1="132.4" y1="478.9" x2="132.4" y2="470.7" stroke="#333" stroke-width="1.2" stroke-dasharray="2.95,2.6"/>
<line x1="125.7" y1="478.9" x2="139.1" y2="478.9" stroke="#5e5e5e" stroke-width="1.1"/>
<rect x="118.5" y="456.9" width="27.8" height="13.8" fill="#fff" stroke="#5e5e5e" stroke-width="1.1"/>
<line x1="118.5" y1="465.4" x2="146.3" y2="465.4" stroke="#000" stroke-width="2.2"/>
<path d="M43.7 418.5V516.1H150.1" fill="none" stroke="#262626" stroke-width="1.5"/>
<line x1="38.2" y1="426" x2="43.7" y2="426" stroke="#1a1a1a" stroke-width="1.3"/>
<text transform="translate(35.5,429.7) scale(1,1.05)" text-anchor="end">1.0</text>
<line x1="38.2" y1="445" x2="43.7" y2="445" stroke="#1a1a1a" stroke-width="1.3"/>
<text transform="translate(35.5,448.7) scale(1,1.05)" text-anchor="end">0.5</text>
<line x1="38.2" y1="464" x2="43.7" y2="464" stroke="#1a1a1a" stroke-width="1.3"/>
<text transform="translate(35.5,467.7) scale(1,1.05)" text-anchor="end">0</text>
<line x1="38.2" y1="483" x2="43.7" y2="483" stroke="#1a1a1a" stroke-width="1.3"/>
<text transform="translate(35.5,486.7) scale(1,1.05)" text-anchor="end">−0.5</text>
<line x1="38.2" y1="502.3" x2="43.7" y2="502.3" stroke="#1a1a1a" stroke-width="1.3"/>
<text transform="translate(35.5,506) scale(1,1.05)" text-anchor="end">−1.0</text>
<line x1="61.8" y1="516.1" x2="61.8" y2="522.1" stroke="#111" stroke-width="1.3"/>
<text transform="translate(61.8,533.7) scale(1,1.05)" text-anchor="middle">15 mg</text>
<line x1="96.9" y1="516.1" x2="96.9" y2="522.1" stroke="#111" stroke-width="1.3"/>
<text transform="translate(96.9,533.7) scale(1,1.05)" text-anchor="middle">30 mg</text>
<line x1="132.4" y1="516.1" x2="132.4" y2="522.1" stroke="#111" stroke-width="1.3"/>
<text transform="translate(132.4,533.7) scale(1,1.05)" text-anchor="middle">45 mg</text>
<text transform="translate(8.5,467.6) rotate(-90) scale(1.017,0.93)" text-anchor="middle">ETA on TPR</text>
<line x1="217.6" y1="464.4" x2="321.5" y2="464.4" stroke="#555" stroke-width="1.3" stroke-dasharray="1.3,1.5"/>
<rect x="220.05" y="461.2" width="43.3" height="4.1" fill="#6a6a6a" stroke="#5e5e5e" stroke-width="1.1"/>
<line x1="220.05" y1="463.3" x2="263.35" y2="463.3" stroke="#000" stroke-width="1.4"/>
<line x1="294.9" y1="422.7" x2="294.9" y2="451.4" stroke="#333" stroke-width="1.2" stroke-dasharray="2.95,2.6"/>
<line x1="284.1" y1="422.7" x2="305.7" y2="422.7" stroke="#5e5e5e" stroke-width="1.1"/>
<line x1="294.9" y1="479.4" x2="294.9" y2="475.9" stroke="#333" stroke-width="1.2" stroke-dasharray="2.95,2.6"/>
<line x1="284.1" y1="479.4" x2="305.7" y2="479.4" stroke="#5e5e5e" stroke-width="1.1"/>
<rect x="273.25" y="451.4" width="43.3" height="24.5" fill="#fff" stroke="#5e5e5e" stroke-width="1.1"/>
<line x1="273.25" y1="465.7" x2="316.55" y2="465.7" stroke="#000" stroke-width="2.2"/>
<circle cx="294.7" cy="512.9" r="1.6" fill="none" stroke="#333" stroke-width="0.9"/>
<path d="M215.1 418.5V516.1H321.5" fill="none" stroke="#262626" stroke-width="1.5"/>
<line x1="209.6" y1="426" x2="215.1" y2="426" stroke="#1a1a1a" stroke-width="1.3"/>
<text transform="translate(206.9,429.7) scale(1,1.05)" text-anchor="end">1.0</text>
<line x1="209.6" y1="445" x2="215.1" y2="445" stroke="#1a1a1a" stroke-width="1.3"/>
<text transform="translate(206.9,448.7) scale(1,1.05)" text-anchor="end">0.5</text>
<line x1="209.6" y1="464" x2="215.1" y2="464" stroke="#1a1a1a" stroke-width="1.3"/>
<text transform="translate(206.9,467.7) scale(1,1.05)" text-anchor="end">0</text>
<line x1="209.6" y1="483" x2="215.1" y2="483" stroke="#1a1a1a" stroke-width="1.3"/>
<text transform="translate(206.9,486.7) scale(1,1.05)" text-anchor="end">−0.5</text>
<line x1="209.6" y1="502.3" x2="215.1" y2="502.3" stroke="#1a1a1a" stroke-width="1.3"/>
<text transform="translate(206.9,506) scale(1,1.05)" text-anchor="end">−1.0</text>
<line x1="241.6" y1="516.1" x2="241.6" y2="522.1" stroke="#111" stroke-width="1.3"/>
<text transform="translate(241.6,533.7) scale(1,1.05)" text-anchor="middle">EGFR+</text>
<line x1="294.9" y1="516.1" x2="294.9" y2="522.1" stroke="#111" stroke-width="1.3"/>
<text transform="translate(294.9,533.7) scale(1,1.05)" text-anchor="middle">EGFR–</text>
<text transform="translate(180.2,467.6) rotate(-90) scale(1.017,0.93)" text-anchor="middle">ETA on TPR</text>
<line x1="409.3" y1="471.9" x2="512.9" y2="471.9" stroke="#555" stroke-width="1.3" stroke-dasharray="1.3,1.5"/>
<line x1="424.7" y1="422.9" x2="424.7" y2="436.2" stroke="#333" stroke-width="1.2" stroke-dasharray="2.95,2.6"/>
<line x1="418" y1="422.9" x2="431.4" y2="422.9" stroke="#5e5e5e" stroke-width="1.1"/>
<line x1="424.7" y1="513.4" x2="424.7" y2="482.4" stroke="#333" stroke-width="1.2" stroke-dasharray="2.95,2.6"/>
<line x1="418" y1="513.4" x2="431.4" y2="513.4" stroke="#5e5e5e" stroke-width="1.1"/>
<rect x="410.9" y="436.2" width="27.6" height="46.2" fill="#fff" stroke="#5e5e5e" stroke-width="1.1"/>
<line x1="410.9" y1="450.9" x2="438.5" y2="450.9" stroke="#000" stroke-width="2.2"/>
<line x1="460.1" y1="469.9" x2="460.1" y2="472.7" stroke="#333" stroke-width="1.2" stroke-dasharray="2.95,2.6"/>
<line x1="453.4" y1="469.9" x2="466.8" y2="469.9" stroke="#5e5e5e" stroke-width="1.1"/>
<line x1="460.1" y1="497.7" x2="460.1" y2="487.4" stroke="#333" stroke-width="1.2" stroke-dasharray="2.95,2.6"/>
<line x1="453.4" y1="497.7" x2="466.8" y2="497.7" stroke="#5e5e5e" stroke-width="1.1"/>
<rect x="446.3" y="472.7" width="27.6" height="14.7" fill="#fff" stroke="#5e5e5e" stroke-width="1.1"/>
<line x1="446.3" y1="478.2" x2="473.9" y2="478.2" stroke="#000" stroke-width="2.2"/>
<line x1="495.5" y1="457.4" x2="495.5" y2="462.7" stroke="#333" stroke-width="1.2" stroke-dasharray="2.95,2.6"/>
<line x1="488.8" y1="457.4" x2="502.2" y2="457.4" stroke="#5e5e5e" stroke-width="1.1"/>
<line x1="495.5" y1="502.2" x2="495.5" y2="480.4" stroke="#333" stroke-width="1.2" stroke-dasharray="2.95,2.6"/>
<line x1="488.8" y1="502.2" x2="502.2" y2="502.2" stroke="#5e5e5e" stroke-width="1.1"/>
<rect x="481.7" y="462.7" width="27.6" height="17.7" fill="#fff" stroke="#5e5e5e" stroke-width="1.1"/>
<line x1="481.7" y1="467.7" x2="509.3" y2="467.7" stroke="#000" stroke-width="2.2"/>
<path d="M406.8 418.5V516.1H512.9" fill="none" stroke="#262626" stroke-width="1.5"/>
<line x1="401.3" y1="428.5" x2="406.8" y2="428.5" stroke="#1a1a1a" stroke-width="1.3"/>
<text transform="translate(398.6,432.2) scale(1,1.05)" text-anchor="end">1.0</text>
<line x1="401.3" y1="450" x2="406.8" y2="450" stroke="#1a1a1a" stroke-width="1.3"/>
<text transform="translate(398.6,453.7) scale(1,1.05)" text-anchor="end">0.5</text>
<line x1="401.3" y1="471.5" x2="406.8" y2="471.5" stroke="#1a1a1a" stroke-width="1.3"/>
<text transform="translate(398.6,475.2) scale(1,1.05)" text-anchor="end">0</text>
<line x1="401.3" y1="493" x2="406.8" y2="493" stroke="#1a1a1a" stroke-width="1.3"/>
<text transform="translate(398.6,496.7) scale(1,1.05)" text-anchor="end">−0.5</text>
<line x1="401.3" y1="514.3" x2="406.8" y2="514.3" stroke="#1a1a1a" stroke-width="1.3"/>
<text transform="translate(398.6,518) scale(1,1.05)" text-anchor="end">−1.0</text>
<line x1="428.9" y1="516.1" x2="428.9" y2="522.1" stroke="#111" stroke-width="1.3"/>
<text transform="translate(428.9,533.7) scale(1,1.05)" text-anchor="middle">15 mg</text>
<line x1="464.3" y1="516.1" x2="464.3" y2="522.1" stroke="#111" stroke-width="1.3"/>
<text transform="translate(464.3,533.7) scale(1,1.05)" text-anchor="middle">30 mg</text>
<line x1="500" y1="516.1" x2="500" y2="522.1" stroke="#111" stroke-width="1.3"/>
<text transform="translate(500,533.7) scale(1,1.05)" text-anchor="middle">45 mg</text>
<text transform="translate(372,467.6) rotate(-90) scale(1.017,0.93)" text-anchor="middle">ETA on TPR</text>
<line x1="580.8" y1="471.9" x2="686" y2="471.9" stroke="#555" stroke-width="1.3" stroke-dasharray="1.3,1.5"/>
<rect x="583.2" y="497.4" width="43.6" height="4.7" fill="#b0b0b0" stroke="#5e5e5e" stroke-width="1.1"/>
<line x1="583.2" y1="499.9" x2="626.8" y2="499.9" stroke="#000" stroke-width="1.7"/>
<line x1="658.1" y1="450.9" x2="658.1" y2="458.9" stroke="#333" stroke-width="1.2" stroke-dasharray="2.95,2.6"/>
<line x1="647.3" y1="450.9" x2="668.9" y2="450.9" stroke="#5e5e5e" stroke-width="1.1"/>
<line x1="658.1" y1="482.7" x2="658.1" y2="477.9" stroke="#333" stroke-width="1.2" stroke-dasharray="2.95,2.6"/>
<line x1="647.3" y1="482.7" x2="668.9" y2="482.7" stroke="#5e5e5e" stroke-width="1.1"/>
<rect x="636.3" y="458.9" width="43.6" height="19" fill="#fff" stroke="#5e5e5e" stroke-width="1.1"/>
<line x1="636.3" y1="467.7" x2="679.9" y2="467.7" stroke="#000" stroke-width="2.2"/>
<circle cx="658.2" cy="421.7" r="1.6" fill="none" stroke="#333" stroke-width="0.9"/>
<circle cx="658.2" cy="513.4" r="1.6" fill="none" stroke="#333" stroke-width="0.9"/>
<path d="M578.3 418.5V516.1H686" fill="none" stroke="#262626" stroke-width="1.5"/>
<line x1="572.8" y1="428.5" x2="578.3" y2="428.5" stroke="#1a1a1a" stroke-width="1.3"/>
<text transform="translate(570.1,432.2) scale(1,1.05)" text-anchor="end">1.0</text>
<line x1="572.8" y1="450" x2="578.3" y2="450" stroke="#1a1a1a" stroke-width="1.3"/>
<text transform="translate(570.1,453.7) scale(1,1.05)" text-anchor="end">0.5</text>
<line x1="572.8" y1="471.5" x2="578.3" y2="471.5" stroke="#1a1a1a" stroke-width="1.3"/>
<text transform="translate(570.1,475.2) scale(1,1.05)" text-anchor="end">0</text>
<line x1="572.8" y1="493" x2="578.3" y2="493" stroke="#1a1a1a" stroke-width="1.3"/>
<text transform="translate(570.1,496.7) scale(1,1.05)" text-anchor="end">−0.5</text>
<line x1="572.8" y1="514.3" x2="578.3" y2="514.3" stroke="#1a1a1a" stroke-width="1.3"/>
<text transform="translate(570.1,518) scale(1,1.05)" text-anchor="end">−1.0</text>
<line x1="604.8" y1="516.1" x2="604.8" y2="522.1" stroke="#111" stroke-width="1.3"/>
<text transform="translate(604.8,533.7) scale(1,1.05)" text-anchor="middle">EGFR+</text>
<line x1="657.9" y1="516.1" x2="657.9" y2="522.1" stroke="#111" stroke-width="1.3"/>
<text transform="translate(657.9,533.7) scale(1,1.05)" text-anchor="middle">EGFR–</text>
<text transform="translate(543.4,467.6) rotate(-90) scale(1.017,0.93)" text-anchor="middle">ETA on TPR</text>
</svg>
</body></html>
